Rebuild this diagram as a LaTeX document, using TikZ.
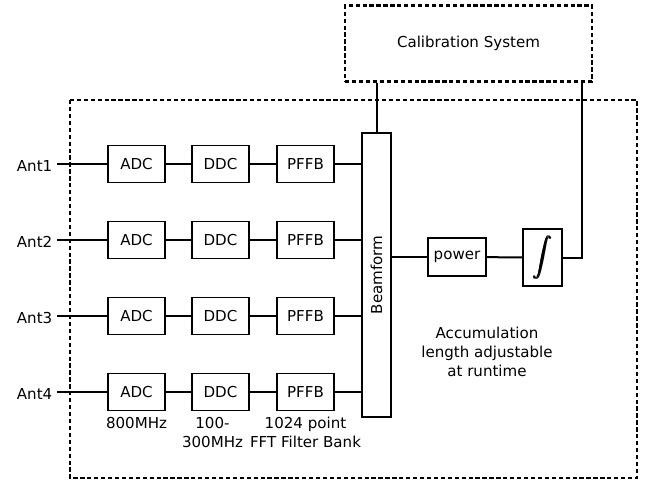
\documentclass[tikz,border=0pt]{standalone}
\usepackage{fontspec}
\usepackage{bm}
\setmainfont{DejaVu Sans}
\usetikzlibrary{positioning}
\begin{document}
\begin{tikzpicture}
[x=0.75pt,y=-0.75pt,
  font=\fontsize{11.3}{14.2}\selectfont,
  lineDecorate/.style={-,line width=1.5pt},
  antDecorate/.style={-,line width=2.2pt},
  boxDecorate/.style={shape=rectangle,draw,line width=1.3pt,inner sep=0pt,
    minimum width=42.75pt,minimum height=27.75pt},
  dashDecorate/.style={draw,line width=1.8pt,dash pattern=on 3.2pt off 2pt}]
\useasboundingbox (0,0) rectangle (649,483);
%% dashed enclosures
\draw[dashDecorate] (70,100) rectangle (637,478);
\node (cal) at (468.5,43.5) [dashDecorate,minimum width=185pt,minimum height=57pt]
  {Calibration System};
%% antenna chains
\foreach \row/\y in {1/164, 2/240, 3/316, 4/392}
{
  \node (ant\row) at (57,\y+2) [anchor=east] {Ant\row};
  \node (adc\row) at (136.5,\y) [boxDecorate] {ADC};
  \node (ddc\row) at (220.5,\y) [boxDecorate] {DDC};
  \node (pffb\row) at (305.5,\y) [boxDecorate] {PFFB};
}
\node (bf) at (376.5,275) [boxDecorate,minimum width=21.75pt,minimum height=213pt]
  {\rotatebox{90}{Beamform}};
\node (power) at (457,257) [boxDecorate,minimum width=43.5pt,minimum height=28.5pt] {power};
\node (integ) at (542.5,257.5) [boxDecorate,minimum width=29pt,minimum height=43pt]
  {\scalebox{1.45}{$\displaystyle\bm{\int}$}};
\coordinate (calIn) at (582,81.5);
%% notes
\node (adcNote) [below=1pt of adc4] {800MHz};
\node (ddcNote) [below=1pt of ddc4,xshift=-6pt,align=center] {100-\\300MHz};
\node (pffbNote) [below=1pt of pffb4,align=center] {1024 point\\FFT Filter Bank};
\node (accum) at (487,352) [align=center] {Accumulation\\length adjustable\\at runtime};
%% edges or lines
\path
\foreach \row in {1,2,3,4}
{
  (adc\row.west -| ant\row.east) edge[antDecorate] (adc\row.west)
  (adc\row) edge[lineDecorate] (ddc\row)
  (ddc\row) edge[lineDecorate] (pffb\row)
  (pffb\row.east) edge[lineDecorate] (pffb\row.east -| bf.west)
};
\draw[lineDecorate] (bf.east |- power.west) -- (power.west);
\draw[lineDecorate] (power) -- (integ);
\draw[lineDecorate] (integ.east) -| (calIn);
\draw[lineDecorate] (bf.north) -- (bf.north |- cal.south);
\end{tikzpicture}
\end{document}
